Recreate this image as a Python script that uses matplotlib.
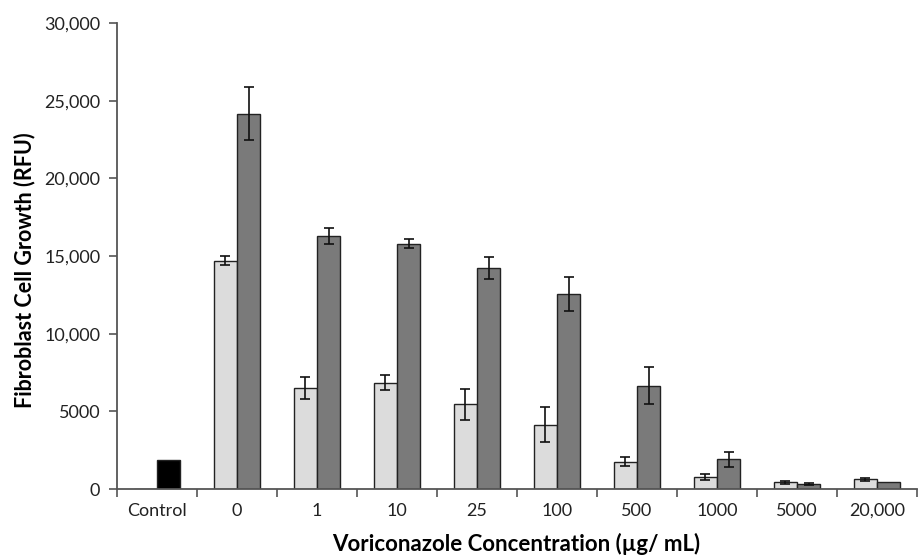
import numpy as np
import matplotlib.pyplot as plt

plt.rcParams['font.family'] = ['Lato', 'DejaVu Sans']

categories = ['Control', '0', '1', '10', '25', '100', '500', '1000', '5000', '20,000']
light = [0, 14700, 6500, 6850, 5450, 4150, 1750, 750, 420, 620]
light_err = [0, 300, 700, 500, 1000, 1100, 300, 200, 80, 80]
dark = [1850, 24150, 16300, 15800, 14250, 12550, 6650, 1900, 330, 420]
dark_err = [0, 1700, 500, 300, 700, 1100, 1200, 500, 70, 0]
ytick_vals = [0, 5000, 10000, 15000, 20000, 25000, 30000]
ytick_labels = ['0', '5000', '10,000', '15,000', '20,000', '25,000', '30,000']

fig = plt.figure(figsize=(9.24, 5.56), dpi=100)
ax = fig.add_axes([0.1266, 0.1205, 0.8658, 0.8381])

x = np.arange(len(categories))
w = 0.29
dark_colors = ['#000000'] + ['#7a7a7a'] * (len(categories) - 1)
ekw = dict(ecolor='#111111', elinewidth=1.2, capsize=3.5, capthick=1.2)

ax.bar(x - w / 2, light, w, color='#dcdcdc', edgecolor='#222222', linewidth=1.0,
       yerr=[e if e > 0 else np.nan for e in light_err], error_kw=ekw)
ax.bar(x + w / 2, dark, w, color=dark_colors, edgecolor='#222222', linewidth=1.0,
       yerr=[e if e > 0 else np.nan for e in dark_err], error_kw=ekw)

ax.set_xlim(-0.5, len(categories) - 0.5)
ax.set_ylim(0, 30000)

ax.set_yticks(ytick_vals)
ax.set_yticklabels(ytick_labels, fontsize=13, color='#222222')
ax.set_xticks(x)
ax.set_xticklabels(categories, fontsize=13, color='#222222')
ax.tick_params(axis='x', length=0, pad=10)
ax.set_xticks(np.arange(len(categories) + 1) - 0.5, minor=True)
ax.tick_params(axis='x', which='minor', length=6, direction='out', color='#555555', width=1.2)
ax.tick_params(axis='y', length=6, direction='out', color='#555555', width=1.2, pad=6)

for s in ['top', 'right']:
    ax.spines[s].set_visible(False)
for s in ['left', 'bottom']:
    ax.spines[s].set_color('#555555')
    ax.spines[s].set_linewidth(1.3)

ax.set_xlabel('Voriconazole Concentration (µg/ mL)', fontsize=16, fontweight='bold', va='center')
ax.xaxis.set_label_coords(0.499, -0.119)
ax.set_ylabel('Fibroblast Cell Growth (RFU)', fontsize=15.5, fontweight='bold', va='center')
ax.yaxis.set_label_coords(-0.116, 0.47)

fig.savefig('out.png', dpi=100)
